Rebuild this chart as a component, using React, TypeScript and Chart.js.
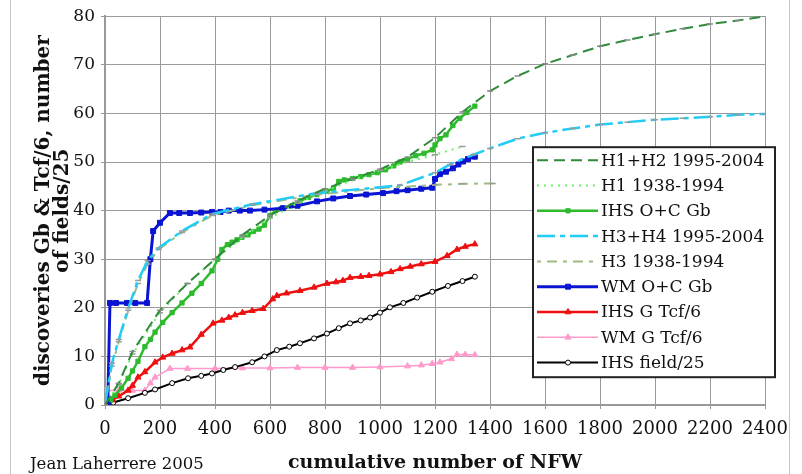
import React, { useEffect, useRef } from 'react';
import { Chart, registerables } from 'chart.js';
import { drawPoint } from 'chart.js/helpers';

Chart.register(...registerables);

const SERIF = '"DejaVu Serif", "Liberation Serif", serif';

// ---- data ----
const H1H2_X = [0, 50, 100, 200, 300, 400, 500, 600, 700, 800, 900, 1000, 1100, 1200, 1300, 1400, 1500, 1600, 1700, 1800, 1900, 2000, 2100, 2200, 2300, 2400];
const H1H2_Y = [0, 4.5, 11, 19.5, 25, 30, 35, 39, 42, 44.5, 46.5, 48.5, 51, 55, 60.3, 64.6, 67.7, 70.2, 72, 73.8, 75.1, 76.3, 77.4, 78.4, 79.1, 80];

const H1_X = [0, 50, 100, 200, 300, 400, 500, 600, 700, 800, 900, 1000, 1100, 1200, 1300];
const H1_Y = [0, 4.2, 10.5, 19, 25, 30, 34.5, 38.5, 41.5, 44, 46.3, 48.3, 50, 51.5, 53.2];

const IHSOC_X = [0, 20, 36, 60, 84, 100, 120, 145, 165, 182, 210, 244, 280, 316, 350, 389, 410, 425, 445, 462, 480, 498, 520, 540, 560, 580, 600, 620, 640, 680, 709, 740, 770, 807, 830, 850, 870, 900, 930, 960, 990, 1020, 1050, 1073, 1100, 1130, 1160, 1190, 1200, 1218, 1240, 1265, 1290, 1316, 1345];
const IHSOC_Y = [0, 1, 2, 3.5, 5.5, 7, 9, 12, 13.5, 15, 17, 19, 21, 23, 25, 27.6, 30, 32, 33, 33.5, 34, 34.5, 35, 35.7, 36.2, 37, 39, 40, 40.4, 41, 42, 42.7, 43.3, 44, 44.5, 46, 46.3, 46.6, 47, 47.4, 47.8, 48.4, 49.2, 50, 50.6, 51.3, 51.8, 52.5, 53.5, 54.8, 55.6, 57.5, 59, 60.2, 61.5];

const H34_X = [0, 25, 50, 85, 120, 155, 195, 280, 390, 535, 770, 1073, 1200, 1255, 1340, 1400, 1500, 1600, 1700, 1800, 1900, 2000, 2100, 2200, 2300, 2400];
const H34_Y = [0, 8.6, 13.5, 20, 25.6, 29.7, 32.3, 35.8, 39.3, 41.3, 43.6, 45.2, 47.8, 49.5, 51.5, 52.8, 54.8, 56, 56.9, 57.7, 58.2, 58.7, 59, 59.3, 59.7, 59.9];

const H3_X = [0, 25, 50, 85, 120, 155, 195, 280, 390, 535, 770, 1000, 1200, 1300, 1410];
const H3_Y = [0, 8, 13, 19.5, 25, 29, 32, 35.5, 39, 41.1, 43.3, 44.6, 45.3, 45.5, 45.6];

const WMOC_X = [0, 10, 18, 40, 80, 110, 153, 165, 175, 200, 236, 270, 309, 350, 389, 420, 450, 490, 527, 580, 647, 700, 771, 830, 891, 950, 1011, 1060, 1100, 1150, 1190, 1200, 1218, 1240, 1265, 1285, 1302, 1320, 1345];
const WMOC_Y = [0, 0, 21, 21, 21, 21, 21, 30, 35.8, 37.5, 39.5, 39.5, 39.5, 39.6, 39.7, 39.7, 40, 40, 40, 40.2, 40.5, 41, 41.9, 42.5, 43, 43.3, 43.6, 44, 44.2, 44.5, 44.7, 46.5, 47.5, 48, 48.7, 49.5, 50.1, 50.6, 51.1];

const IHSG_X = [0, 25, 50, 84, 100, 120, 145, 182, 210, 244, 280, 309, 350, 393, 425, 450, 473, 500, 535, 575, 610, 625, 660, 709, 760, 807, 840, 865, 891, 930, 960, 1000, 1040, 1073, 1110, 1150, 1200, 1244, 1280, 1310, 1345];
const IHSG_Y = [0, 1, 1.8, 3, 4, 5.7, 6.8, 8.8, 9.8, 10.6, 11.3, 11.9, 14.5, 16.8, 17.4, 18, 18.5, 19, 19.4, 19.8, 21.8, 22.5, 23, 23.5, 24.2, 25, 25.3, 25.6, 26.2, 26.4, 26.6, 26.9, 27.4, 28, 28.5, 29, 29.5, 30.7, 32, 32.6, 33.1];

const WMG_X = [0, 50, 100, 145, 165, 182, 236, 300, 400, 500, 600, 700, 800, 900, 1000, 1100, 1150, 1190, 1218, 1260, 1280, 1310, 1345];
const WMG_Y = [3, 3, 3, 3, 4.5, 5.7, 7.5, 7.5, 7.5, 7.6, 7.6, 7.7, 7.7, 7.7, 7.8, 8, 8.2, 8.5, 8.8, 9.5, 10.4, 10.4, 10.3];

const IHSF_X = [0, 30, 84, 145, 182, 244, 302, 350, 389, 430, 473, 535, 580, 625, 670, 709, 760, 807, 850, 891, 930, 964, 1000, 1036, 1085, 1135, 1190, 1247, 1300, 1345];
const IHSF_Y = [0, 0.5, 1.4, 2.5, 3.2, 4.5, 5.5, 6, 6.5, 7.2, 7.8, 8.8, 10, 11.3, 12, 12.7, 13.7, 14.7, 15.8, 16.8, 17.4, 18, 19, 20.1, 21, 22.1, 23.3, 24.5, 25.5, 26.4];

const LABELS = ['H1+H2 1995-2004', 'H1 1938-1994', 'IHS O+C Gb', 'H3+H4 1995-2004', 'H3 1938-1994', 'WM O+C Gb', 'IHS G Tcf/6', 'WM G Tcf/6', 'IHS field/25'];

const pts = (xs: number[], ys: number[]) => xs.map((x, i) => ({ x, y: ys[i] }));

const FIT_MARK = { pointStyle: 'line', pointRadius: 3, pointBorderColor: '#9a9a9a', pointBackgroundColor: '#9a9a9a', pointBorderWidth: 1.5 };

const legendPlugin = {
  id: 'customLegend',
  afterDraw(chart: any) {
    const ctx = chart.ctx;
    const ca = chart.chartArea;
    const bx = ca.left + 428, by = ca.top + 131, bw = 242, bh = 230;
    ctx.save();
    ctx.fillStyle = '#fff';
    ctx.fillRect(bx, by, bw, bh);
    ctx.strokeStyle = '#222';
    ctx.lineWidth = 2;
    ctx.strokeRect(bx, by, bw, bh);
    chart.data.datasets.forEach((ds: any, i: number) => {
      const y = by + 13 + i * 25.3;
      ctx.save();
      ctx.strokeStyle = ds.borderColor;
      ctx.lineWidth = ds.borderWidth;
      ctx.setLineDash(ds.borderDash || []);
      ctx.beginPath();
      ctx.moveTo(bx + 4, y);
      ctx.lineTo(bx + 65, y);
      ctx.stroke();
      ctx.setLineDash([]);
      if (ds.legendMark) {
        ctx.fillStyle = ds.pointBackgroundColor;
        ctx.strokeStyle = ds.pointBorderColor;
        ctx.lineWidth = ds.pointBorderWidth;
        drawPoint(ctx, { pointStyle: ds.pointStyle, radius: ds.pointRadius, rotation: 0, borderWidth: ds.pointBorderWidth }, bx + 35, y);
      }
      ctx.restore();
      ctx.fillStyle = '#111';
      ctx.font = `17px ${SERIF}`;
      ctx.textBaseline = 'middle';
      ctx.textAlign = 'left';
      ctx.fillText(ds.label, bx + 68, y + 1);
    });
    ctx.restore();
  },
};

const framePlugin = {
  id: 'frame',
  afterDraw(chart: any) {
    const ctx = chart.ctx;
    ctx.save();
    ctx.strokeStyle = '#c4c4c4';
    ctx.lineWidth = 1;
    ctx.beginPath();
    ctx.moveTo(10.5, 0);
    ctx.lineTo(10.5, chart.height);
    ctx.moveTo(chart.width - 12.5, 0);
    ctx.lineTo(chart.width - 12.5, chart.height);
    ctx.stroke();
    ctx.fillStyle = '#111';
    ctx.font = `16.5px ${SERIF}`;
    ctx.textBaseline = 'alphabetic';
    ctx.textAlign = 'left';
    ctx.fillText('Jean Laherrere 2005', 30, 469);
    ctx.restore();
  },
};

export default function App() {
  const ref = useRef<HTMLCanvasElement | null>(null);
  useEffect(() => {
    if (!ref.current) return;
    const datasets: any[] = [
      { label: LABELS[0], data: pts(H1H2_X, H1H2_Y), borderColor: '#2f8a3a', borderWidth: 2, borderDash: [11, 6], order: 0, ...FIT_MARK, pointBorderColor: '#8a8a8a', legendMark: false },
      { label: LABELS[1], data: pts(H1_X, H1_Y), borderColor: '#6ef06e', borderWidth: 2, borderDash: [2, 5], order: 3, ...FIT_MARK, legendMark: false },
      { label: LABELS[2], data: pts(IHSOC_X, IHSOC_Y), borderColor: '#2dbb2d', borderWidth: 2.5, pointStyle: 'rect', pointRadius: 3, pointBackgroundColor: '#2dbb2d', pointBorderColor: '#2dbb2d', pointBorderWidth: 1, order: 5, legendMark: true },
      { label: LABELS[3], data: pts(H34_X, H34_Y), borderColor: '#22ccf5', borderWidth: 2.5, borderDash: [18, 5, 5, 5], order: 1, ...FIT_MARK, legendMark: false },
      { label: LABELS[4], data: pts(H3_X, H3_Y), borderColor: '#9dbb85', borderWidth: 2, borderDash: [4, 6, 10, 6], order: 2, ...FIT_MARK, legendMark: false },
      { label: LABELS[5], data: pts(WMOC_X, WMOC_Y), borderColor: '#0a14d2', borderWidth: 3, pointStyle: 'rect', pointRadius: 3.5, pointBackgroundColor: '#0a14d2', pointBorderColor: '#0a14d2', pointBorderWidth: 1, order: 4, legendMark: true },
      { label: LABELS[6], data: pts(IHSG_X, IHSG_Y), borderColor: '#ee1010', borderWidth: 2.5, pointStyle: 'triangle', pointRadius: 3.5, pointBackgroundColor: '#ee1010', pointBorderColor: '#ee1010', pointBorderWidth: 1, order: 6, legendMark: true },
      { label: LABELS[7], data: pts(WMG_X, WMG_Y), borderColor: '#ff99cc', borderWidth: 1.5, pointStyle: 'triangle', pointRadius: 3.5, pointBackgroundColor: '#ff99cc', pointBorderColor: '#ff99cc', pointBorderWidth: 1, order: 8, legendMark: true },
      { label: LABELS[8], data: pts(IHSF_X, IHSF_Y), borderColor: '#000', borderWidth: 2, pointStyle: 'circle', pointRadius: 2.5, pointBackgroundColor: '#fff', pointBorderColor: '#000', pointBorderWidth: 1, order: 7, legendMark: true },
    ];
    datasets.forEach((d) => { d.fill = false; d.tension = 0; d.pointHoverRadius = d.pointRadius; });
    const chart = new Chart(ref.current, {
      type: 'line',
      data: { datasets },
      options: {
        animation: false,
        responsive: false,
        parsing: true,
        layout: { padding: { left: 20, right: 37, top: 14, bottom: 0 } },
        plugins: { legend: { display: false }, tooltip: { enabled: false }, title: { display: false } },
        scales: {
          x: {
            type: 'linear', min: 0, max: 2400,
            ticks: { stepSize: 200, color: '#111', font: { family: SERIF, size: 18 }, padding: 10, maxRotation: 0, autoSkip: false, callback: (v: any) => String(v) },
            grid: { color: '#9a9a9a', lineWidth: 1, tickLength: 4 },
            border: { color: '#999', width: 2 },
            title: { display: true, text: 'cumulative number of NFW', color: '#111', font: { family: SERIF, size: 19, weight: 'bold' }, padding: { top: 5, bottom: 0 } },
            afterFit: (s: any) => { s.height = 69; },
          },
          y: {
            type: 'linear', min: 0, max: 80,
            ticks: { stepSize: 10, color: '#111', font: { family: SERIF, size: 17 }, padding: 6, callback: (v: any) => String(v) },
            grid: { color: '#9a9a9a', lineWidth: 1, tickLength: 4 },
            border: { color: '#999', width: 2 },
            title: { display: true, text: ['discoveries Gb & Tcf/6, number', 'of fields/25'], color: '#111', font: { family: SERIF, size: 20, weight: 'bold', lineHeight: 0.95 }, padding: { top: 14, bottom: 4 } },
            afterFit: (s: any) => { s.width = 85; },
          },
        },
      } as any,
      plugins: [legendPlugin, framePlugin],
    });
    return () => chart.destroy();
  }, []);
  return (
    <div style={{ position: 'fixed', left: 0, top: 0, width: 802, height: 474, background: '#fff' }}>
      <canvas ref={ref} width={802} height={474} />
    </div>
  );
}
